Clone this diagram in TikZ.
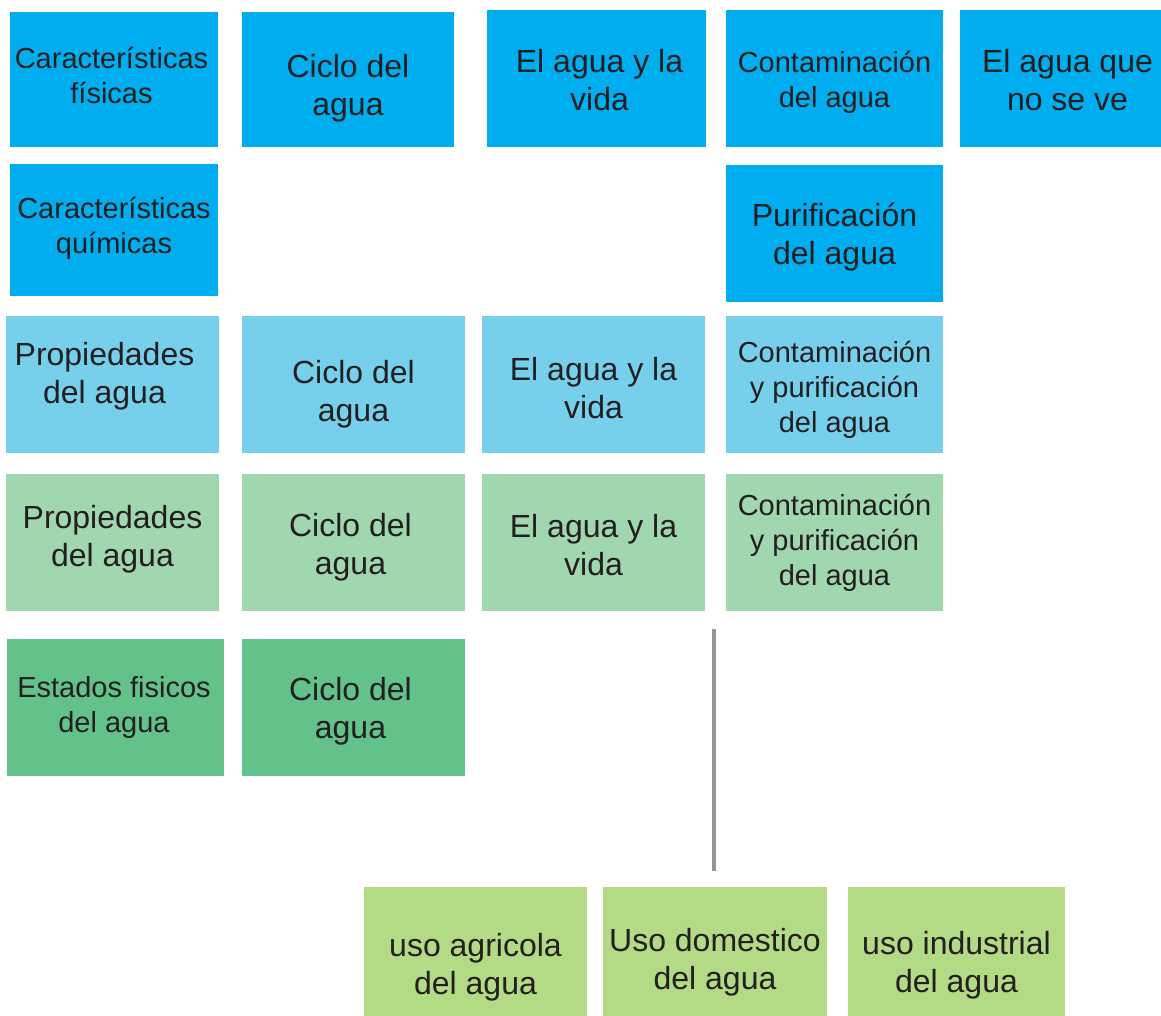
\documentclass[tikz,border=0pt]{standalone}
\usepackage{fontspec}
\setmainfont{Liberation Sans}
\usetikzlibrary{positioning}

\definecolor{azul}{HTML}{00AEEF}
\definecolor{celeste}{HTML}{76D0EC}
\definecolor{menta}{HTML}{A1D7AF}
\definecolor{verde}{HTML}{62C28A}
\definecolor{lima}{HTML}{B3DA84}
\definecolor{tinta}{HTML}{231F20}
\definecolor{gris}{HTML}{939598}

\begin{document}
\begin{tikzpicture}[x=1pt,y=-1pt,
    tema/.style={fill=#1,inner sep=0pt},
    caja/.style 2 args={minimum width=#1,minimum height=#2},
    rotulo/.style={align=center,text=tinta,inner sep=0pt,
                   font=\fontsize{32}{38}\selectfont},
    chico/.style={font=\fontsize{29}{35}\selectfont}]
   \useasboundingbox (0,0) rectangle (1161,1016);
   % fila 1
   \node[tema=azul,caja={208pt}{135pt},label={[rotulo,chico,xshift=-2.5pt,yshift=4pt]center:{Características\\físicas}}] (carfis) at (114,79.5) {};
   \node[tema=azul,caja={212pt}{135pt},label={[rotulo,yshift=-9pt]center:{Ciclo del\\agua}}] (ciclo1) at (348,79.5) {};
   \node[tema=azul,caja={219pt}{137pt},label={[rotulo,xshift=3pt,yshift=-1.5pt]center:{El agua y la\\vida}}] (vida1) at (596.5,78.5) {};
   \node[tema=azul,caja={217pt}{137pt},label={[rotulo,chico,yshift=-4pt]center:{Contaminación\\del agua}}] (cont1) at (834.5,78.5) {};
   \node[tema=azul,caja={201pt}{137pt},label={[rotulo,xshift=7pt,yshift=-1.5pt]center:{El agua que\\no se ve}}] (nove) at (1060.5,78.5) {};
   % fila 2
   \node[tema=azul,caja={208pt}{132pt},label={[rotulo,chico,yshift=2pt]center:{Características\\químicas}}] (carquim) at (114,230) {};
   \node[tema=azul,caja={217pt}{137pt},label={[rotulo,yshift=-4pt]center:{Purificación\\del agua}}] (purif) at (834.5,233.5) {};
   % fila 3
   \node[tema=celeste,caja={213pt}{137pt},label={[rotulo,xshift=-8pt,yshift=8pt]center:{Propiedades\\del agua}}] (prop1) at (112.5,384.5) {};
   \node[tema=celeste,caja={223pt}{137pt},label={[rotulo,yshift=-10pt]center:{Ciclo del\\agua}}] (ciclo2) at (353.5,384.5) {};
   \node[tema=celeste,caja={223pt}{137pt},label={[rotulo,yshift=-4pt]center:{El agua y la\\vida}}] (vida2) at (593.5,384.5) {};
   \node[tema=celeste,caja={217pt}{137pt},label={[rotulo,chico,yshift=-5pt]center:{Contaminación\\y purificación\\del agua}}] (contpur1) at (834.5,384.5) {};
   % fila 4
   \node[tema=menta,caja={213pt}{137pt},label={[rotulo,yshift=3.5pt]center:{Propiedades\\del agua}}] (prop2) at (112.5,542.5) {};
   \node[tema=menta,caja={223pt}{137pt},label={[rotulo,xshift=-3pt,yshift=-4.5pt]center:{Ciclo del\\agua}}] (ciclo3) at (353.5,542.5) {};
   \node[tema=menta,caja={223pt}{137pt},label={[rotulo,yshift=-2.5pt]center:{El agua y la\\vida}}] (vida3) at (593.5,542.5) {};
   \node[tema=menta,caja={217pt}{137pt},label={[rotulo,chico]center:{Contaminación\\y purificación\\del agua}}] (contpur2) at (834.5,542.5) {};
   % fila 5
   \node[tema=verde,caja={217pt}{137pt},label={[rotulo,chico,xshift=-1.5pt]center:{Estados fisicos\\del agua}}] (estados) at (115.5,707.5) {};
   \node[tema=verde,caja={223pt}{137pt},label={[rotulo,xshift=-3pt,yshift=-4pt]center:{Ciclo del\\agua}}] (ciclo4) at (353.5,707.5) {};
   % usos
   \node[tema=lima,caja={223pt}{129pt},label={[rotulo,yshift=-16pt]center:{uso agricola\\del agua}}] (agri) at (475.5,951.5) {};
   \node[tema=lima,caja={224pt}{129pt},label={[rotulo,yshift=-11pt]center:{Uso domestico\\del agua}}] (dom) at (715,951.5) {};
   \node[tema=lima,caja={217pt}{129pt},label={[rotulo,yshift=-14pt]center:{uso industrial\\del agua}}] (ind) at (956.5,951.5) {};
   \coordinate (usos) at (714,629);
   \draw[gris,line width=4.5pt,shorten >=16pt] (usos) -- (usos |- dom.north);
\end{tikzpicture}
\end{document}
